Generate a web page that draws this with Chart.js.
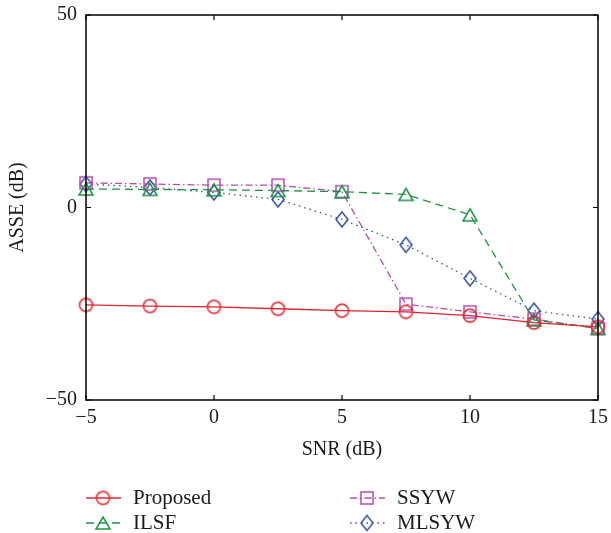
<!DOCTYPE html>
<html>
<head>
<meta charset="utf-8">
<script src="https://cdn.jsdelivr.net/npm/chart.js@4.4.1/dist/chart.umd.min.js"></script>
<style>
  body { margin: 0; background: #fff; }
</style>
</head>
<body>
<canvas id="asseChart" width="611" height="533"></canvas>
<script>
// values
const snr = [-5, -2.5, 0, 2.5, 5, 7.5, 10, 12.5, 15]
const proposed = [-25.3, -25.6, -25.8, -26.3, -26.8, -27.1, -28.1, -29.9, -31.0]
const ilsf = [4.8, 4.7, 4.6, 4.4, 4.1, 3.4, -1.9, -29.2, -31.4]
const ssyw = [6.4, 6.1, 5.8, 5.8, 4.1, -25.1, -27.1, -29.0, -31.4]
const mlsyw = [6.1, 5.2, 3.9, 2.1, -3.1, -9.7, -18.4, -26.8, -29.0]
const xTicks = [-5, 0, 5, 10, 15]
const yTicks = [-50, 0, 50]

const FONT = "'Liberation Serif', 'DejaVu Serif', serif"
const TEXT = '#1a1a1a'

// small canvases used as point styles (and reused in the legend)
function marker(shape, color, w, h) {
  const c = document.createElement('canvas')
  c.width = w + 4
  c.height = h + 4
  const g = c.getContext('2d')
  const cx = c.width / 2, cy = c.height / 2
  g.strokeStyle = color
  g.lineWidth = 1.5
  g.beginPath()
  if (shape === 'circle') {
    g.arc(cx, cy, w / 2, 0, Math.PI * 2)
  } else if (shape === 'triangle') {
    g.moveTo(cx, cy - h / 2)
    g.lineTo(cx + w / 2, cy + h / 2)
    g.lineTo(cx - w / 2, cy + h / 2)
    g.closePath()
  } else if (shape === 'square') {
    g.rect(cx - w / 2, cy - h / 2, w, h)
  } else {
    g.moveTo(cx, cy - h / 2)
    g.lineTo(cx + w / 2, cy)
    g.lineTo(cx, cy + h / 2)
    g.lineTo(cx - w / 2, cy)
    g.closePath()
  }
  g.stroke()
  return c
}

const red = '#e3232b', green = '#1f9345', purple = '#b24db4', blue = '#3651a8'

const series = [
  { label: 'Proposed', data: proposed, color: red, dash: [], img: marker('circle', red, 13, 13) },
  { label: 'ILSF', data: ilsf, color: green, dash: [8, 5], img: marker('triangle', green, 14, 12) },
  { label: 'SSYW', data: ssyw, color: purple, dash: [7, 3, 1.5, 3], img: marker('square', purple, 12, 12) },
  { label: 'MLSYW', data: mlsyw, color: blue, dash: [1.5, 4], img: marker('diamond', blue, 12, 15) },
]

const minus = v => (v < 0 ? '\u2212' + Math.abs(v) : '' + v)

const framePlugin = {
  id: 'frame',
  afterDraw(chart) {
    const { ctx, chartArea: a, scales: { x, y } } = chart
    ctx.save()
    ctx.strokeStyle = '#000'
    ctx.lineWidth = 1.5
    ctx.strokeRect(a.left, a.top, a.right - a.left, a.bottom - a.top)

    // inward ticks on all four sides
    ctx.lineWidth = 1.2
    ctx.beginPath()
    x.ticks.forEach(t => {
      const px = x.getPixelForValue(t.value)
      ctx.moveTo(px, a.bottom); ctx.lineTo(px, a.bottom - 5)
      ctx.moveTo(px, a.top); ctx.lineTo(px, a.top + 5)
    })
    y.ticks.forEach(t => {
      const py = y.getPixelForValue(t.value)
      ctx.moveTo(a.left, py); ctx.lineTo(a.left + 5, py)
      ctx.moveTo(a.right, py); ctx.lineTo(a.right - 5, py)
    })
    ctx.stroke()

    // legend, two columns under the axis title
    ctx.font = '21px ' + FONT
    ctx.fillStyle = TEXT
    ctx.textBaseline = 'middle'
    series.forEach((s, i) => {
      const col = Math.floor(i / 2), row = i % 2
      const x0 = a.left + col * 264
      const ly = a.bottom + 98 + row * 25
      ctx.strokeStyle = s.color
      ctx.lineWidth = 1.3
      ctx.setLineDash(s.dash)
      ctx.beginPath()
      ctx.moveTo(x0, ly)
      ctx.lineTo(x0 + 35, ly)
      ctx.stroke()
      ctx.setLineDash([])
      ctx.drawImage(s.img, x0 + 17 - s.img.width / 2, ly - s.img.height / 2)
      ctx.fillText(s.label, x0 + 47, ly)
    })
    ctx.restore()
  }
}

new Chart(document.getElementById('asseChart'), {
  type: 'line',
  data: {
    labels: snr,
    datasets: series.map(s => ({
      label: s.label,
      data: snr.map((v, i) => ({ x: v, y: s.data[i] })),
      borderColor: s.color,
      borderWidth: 1.3,
      borderDash: s.dash,
      backgroundColor: 'transparent',
      pointStyle: s.img,
      pointRadius: 7,
      tension: 0,
      clip: false,
    }))
  },
  options: {
    responsive: false,
    animation: false,
    layout: { padding: { left: 0, right: 13, top: 15, bottom: 71 } },
    plugins: {
      legend: { display: false },
      tooltip: { enabled: false },
    },
    scales: {
      x: {
        type: 'linear',
        min: -5,
        max: 15,
        afterBuildTicks: s => { s.ticks = xTicks.map(v => ({ value: v })) },
        afterFit: s => {
          s.height = 62
          s.paddingLeft = 0
          s.paddingRight = 0
        },
        grid: { display: false, drawTicks: false },
        border: { display: false },
        ticks: {
          padding: 6,
          color: TEXT,
          font: { family: FONT, size: 20 },
          callback: minus,
        },
        title: {
          display: true,
          text: 'SNR (dB)',
          color: TEXT,
          font: { family: FONT, size: 20, lineHeight: 1.2 },
          padding: { top: 0, bottom: 0 },
        },
      },
      y: {
        min: -50,
        max: 50,
        afterBuildTicks: s => { s.ticks = yTicks.map(v => ({ value: v })) },
        afterFit: s => {
          s.width = 86
          s.paddingTop = 0
          s.paddingBottom = 0
        },
        grid: { display: false, drawTicks: false },
        border: { display: false },
        ticks: {
          padding: 9,
          color: TEXT,
          font: { family: FONT, size: 20 },
          callback: minus,
        },
        title: {
          display: true,
          text: 'ASSE (dB)',
          color: TEXT,
          font: { family: FONT, size: 20, lineHeight: 1.2 },
          padding: { top: 6, bottom: 0 },
        },
      },
    },
  },
  plugins: [framePlugin],
})
</script>
</body>
</html>
